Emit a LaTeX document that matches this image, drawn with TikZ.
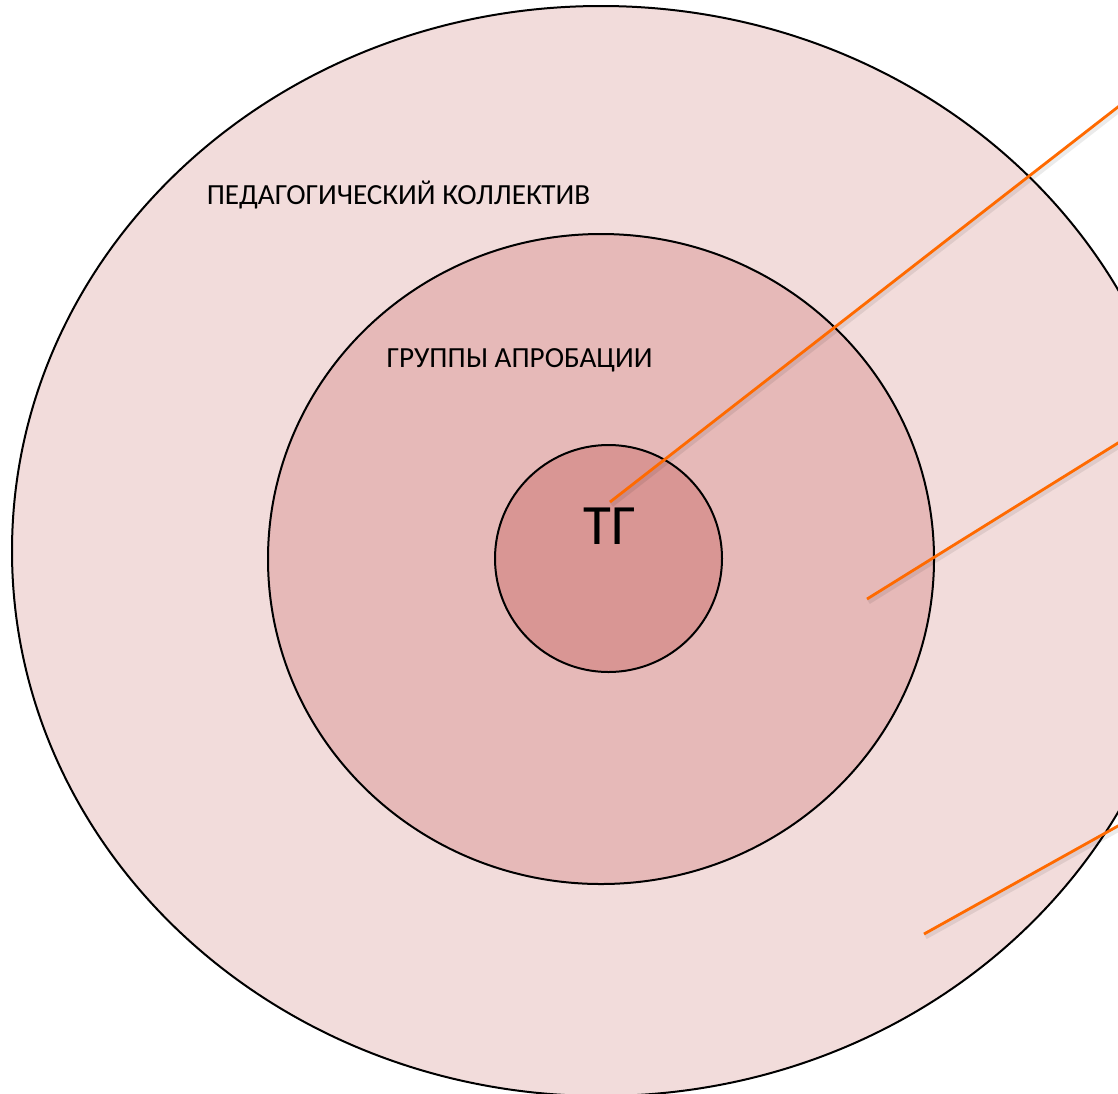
\documentclass[tikz,border=0pt]{standalone}
\usepackage{fontspec}
\setmainfont{Carlito}
\definecolor{ringout}{HTML}{F2DCDB}
\definecolor{ringmid}{HTML}{E6B9B8}
\definecolor{ringin}{HTML}{D99694}
\definecolor{calloutorange}{RGB}{255,106,0}
\tikzset{
	ring/.style={draw=black, line width=1pt},
	ringtext/.style={inner sep=0pt, anchor=base, font=\fontsize{14.6}{16}\selectfont},
	callout/.style={draw=calloutorange, line width=1.4pt,
		preaction={draw=black, opacity=0.08, line width=3pt,
			transform canvas={shift={(0.6pt,-1.2pt)}}}}
}
\begin{document}
\begin{tikzpicture}[x=0.5pt,y=-0.5pt]
				\clip (0,0) rectangle (1118,1093);
				\fill[white] (0,0) rectangle (1118,1093);
				
				% rings: outer, middle, inner
				\foreach \cx/\cy/\rx/\ry/\col in
				{601/551/589/545/ringout, 601/559/333/325/ringmid, 608.5/558.5/113.5/113.5/ringin}{
					\draw[ring, fill=\col] (\cx,\cy) ellipse ({\rx} and {\ry});
				}
				
				% texts
				\node[ringtext] (pedkol) at (398.5,204) {ПЕДАГОГИЧЕСКИЙ КОЛЛЕКТИВ};
				\node[ringtext] (grapr) at (519.5,367) {ГРУППЫ АПРОБАЦИИ};
				\node[ringtext, font=\fontsize{28.5}{30}\selectfont] (tg) at (609.5,544) {ТГ};
				
				% callout ends
				\coordinate (tgin) at (610,502);
				\coordinate (tgout) at (1126,100.7);
				\coordinate (grin) at (867,599);
				\coordinate (grout) at (1126,438);
				\coordinate (pkin) at (924,934);
				\coordinate (pkout) at (1126,821.5);
				
				\foreach \x/\y in
				{tgin/tgout, grin/grout, pkin/pkout}{
					\draw[callout] (\x)--(\y);
				}
\end{tikzpicture}
\end{document}
